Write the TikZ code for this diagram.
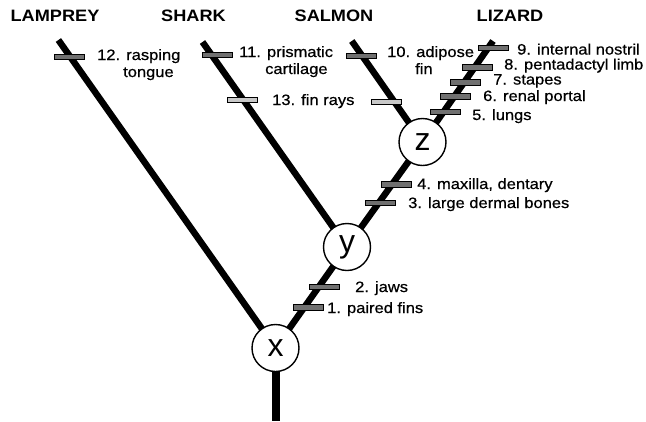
\documentclass[tikz,border=0pt]{standalone}
\usepackage{fontspec}
\setmainfont{Liberation Sans}
\newfontfamily\labfont[FakeStretch=1.1,FakeBold=0.6]{Liberation Sans}
\newfontfamily\titfont[FakeStretch=1.1]{Liberation Sans}
\usetikzlibrary{backgrounds}
\definecolor{barDark}{HTML}{707070}
\definecolor{barLight}{HTML}{C8C8C8}
\tikzset{
  branch/.style={line width=6.5pt},
  trunkline/.style={line width=8pt},
  clade/.style={circle, draw, line width=1.4pt, fill=white, minimum size=47pt, inner sep=0pt, font=\fontsize{32}{32}\selectfont},
  darkbar/.style={draw, line width=0.9pt, fill=barDark, minimum width=30pt, minimum height=5.5pt, inner sep=0pt},
  lightbar/.style={darkbar, fill=barLight},
  lab/.style={anchor=base west, inner sep=0pt, font=\labfont\fontsize{15}{17}\selectfont},
  taxon/.style={anchor=base, inner sep=0pt, font=\titfont\bfseries\fontsize{16.5}{18}\selectfont}
}
\begin{document}
\begin{tikzpicture}[x=1pt,y=-1pt]
\useasboundingbox (0,0) rectangle (646,421);
% taxa
\node[taxon] (nLam) at (55,21.7) {LAMPREY};
\node[taxon] (nSha) at (193.5,21.7) {SHARK};
\node[taxon] (nSal) at (334,21.7) {SALMON};
\node[taxon] (nLiz) at (510,21.7) {LIZARD};
% tips and root
\coordinate (tLam) at (58.4,40);
\coordinate (tSha) at (202.5,42);
\coordinate (tSal) at (351.8,41);
\coordinate (tLiz) at (493,41);
\coordinate (root) at (275.5,421);
% clade nodes
\node[clade] (x) at (275.5,348) {x};
\node[clade] (y) at (347,247) {y};
\node[clade] (z) at (422.5,142) {z};
% branches
\begin{scope}[on background layer]
\draw[branch] (x.center) -- (tLam);
\draw[branch] (y.center) -- (tSha);
\draw[branch] (z.center) -- (tSal);
\draw[branch] (x.center) -- (y.center) -- (z.center) -- (tLiz);
\draw[trunkline] (x.center) -- (root);
\end{scope}
% character bars
\node[darkbar] (b12) at (69,57) {};
\node[darkbar] (b11) at (217,55) {};
\node[lightbar] (b13) at (242.5,100) {};
\node[darkbar] (b10) at (361.5,56) {};
\node[lightbar] (b13s) at (386.7,101.7) {};
\node[darkbar] (b9) at (493.3,48) {};
\node[darkbar] (b8) at (477,67.2) {};
\node[darkbar] (b7) at (465,82.2) {};
\node[darkbar] (b6) at (455.8,96.2) {};
\node[darkbar] (b5) at (445.3,112) {};
\node[darkbar] (b4) at (396,184.3) {};
\node[darkbar] (b3) at (380.5,202.7) {};
\node[darkbar] (b2) at (324,286.7) {};
\node[darkbar] (b1) at (308.5,307.3) {};
% labels
\node[lab] (l12a) at (97,60) {12. rasping};
\node[lab] (l12b) at (123,77) {tongue};
\node[lab] (l11a) at (239,57) {11. prismatic};
\node[lab] (l11b) at (265,74) {cartilage};
\node[lab] (l13) at (272,105) {13. fin rays};
\node[lab] (l10a) at (387,57) {10. adipose};
\node[lab] (l10b) at (415,74) {fin};
\node[lab] (l9) at (517,54.5) {9. internal nostril};
\node[lab] (l8) at (504,69.5) {8. pentadactyl limb};
\node[lab] (l7) at (493,84.5) {7. stapes};
\node[lab] (l6) at (483,101) {6. renal portal};
\node[lab] (l5) at (472,120) {5. lungs};
\node[lab] (l4) at (417,189) {4. maxilla, dentary};
\node[lab] (l3) at (408,208) {3. large dermal bones};
\node[lab] (l2) at (355,292) {2. jaws};
\node[lab] (l1) at (327,313) {1. paired fins};
\end{tikzpicture}
\end{document}
